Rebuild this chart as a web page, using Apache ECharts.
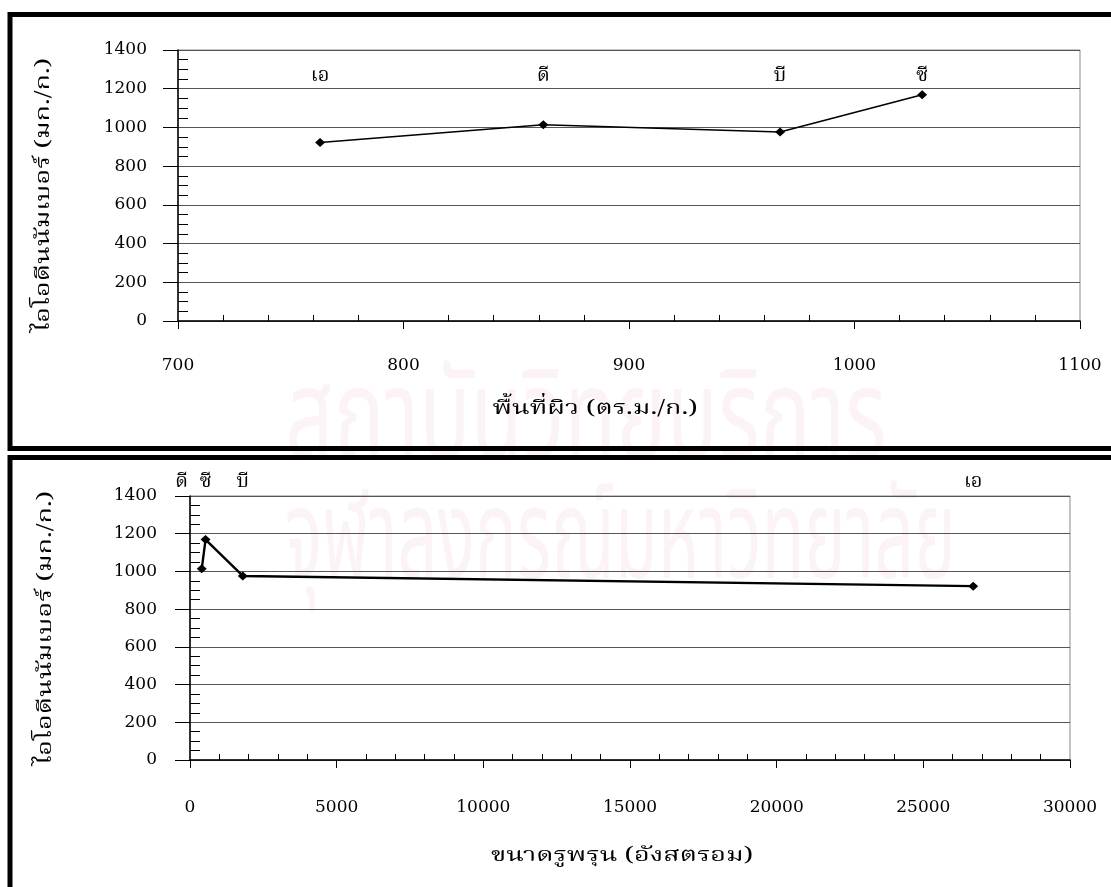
<!DOCTYPE html>
<html><head><meta charset="utf-8">
<script src="https://cdn.jsdelivr.net/npm/echarts@6/dist/echarts.min.js"></script>
<style>html,body{margin:0;padding:0;background:#fff}#c{width:1111px;height:887px}</style>
</head><body><div id="c"></div>
<script>
// ---- data ----
const sampleNames = ['เอ', 'ดี', 'บี', 'ซี'];
const iodineNumber = [922, 1014, 976, 1169];      // มก./ก.
const surfaceArea = [763, 862, 967, 1030];         // ตร.ม./ก.
const poreSize = [26700, 400, 1800, 530];          // อังสตรอม
const yTitle = 'ไอโอดีนนัมเบอร์ (มก./ก.)';
const xTitleTop = 'พื้นที่ผิว (ตร.ม./ก.)';
const xTitleBottom = 'ขนาดรูพรุน (อังสตรอม)';
const watermark1 = 'สถาบันวิทยบริการ';
const watermark2 = 'จุฬาลงกรณ์มหาวิทยาลัย';

// ---- config (not data) ----
const THAI = "'Noto Serif Thai','Norasi','Kinnari','Noto Sans Thai','Loma','Garuda','DejaVu Serif',serif";
const THAI_SANS = "'Noto Sans Thai','Loma','Garuda','DejaVu Sans',sans-serif";
const SERIF = "'DejaVu Serif','Liberation Serif',serif";
const LABEL_ROW_TOP = 1255, LABEL_ROW_BOTTOM = 1467;
const bottomLabelOffsets = {'ดี': [-20, 0]};
const plain = v => String(v);

function sortedPairs(xs) {
  return xs.map((x, i) => [x, iodineNumber[i]]).sort((a, b) => a[0] - b[0]);
}
function labelData(xs, row, offsets) {
  return xs.map((x, i) => {
    const d = {value: [x, row], name: sampleNames[i]};
    if (offsets && offsets[sampleNames[i]]) d.label = {offset: offsets[sampleNames[i]]};
    return d;
  });
}

function mainX(grid, min, max, interval, margin) {
  return {gridIndex: grid, type: 'value', position: 'bottom', min, max, interval,
    axisLine: {show: true, onZero: false, lineStyle: {color: '#000', width: 1.5}},
    axisTick: {show: true, length: 8, lineStyle: {color: '#000', width: 1}},
    minorTick: {show: false},
    axisLabel: {margin, color: '#000', fontFamily: SERIF, fontSize: 17, formatter: plain},
    splitLine: {show: false}};
}
function minorX(grid, min, max, interval) {
  return {gridIndex: grid, type: 'value', position: 'bottom', min, max, interval,
    axisLine: {show: false}, axisLabel: {show: false},
    axisTick: {show: false, inside: true},
    minorTick: {show: true, splitNumber: 5, length: 6, lineStyle: {color: '#000', width: 1}},
    splitLine: {show: false}, minorSplitLine: {show: false}};
}
function mainY(grid, margin) {
  return {gridIndex: grid, type: 'value', position: 'left', min: 0, max: 1400, interval: 200,
    axisLine: {show: true, onZero: false, lineStyle: {color: '#000', width: 1.5}},
    axisTick: {show: true, length: 15, lineStyle: {color: '#000', width: 1}},
    axisLabel: {margin, color: '#000', fontFamily: SERIF, fontSize: 17, formatter: plain},
    splitLine: {show: true, lineStyle: {color: '#555', width: 1}}};
}
function minorY(grid) {
  return {gridIndex: grid, type: 'value', position: 'left', min: 0, max: 1400, interval: 200,
    axisLine: {show: false}, axisLabel: {show: false},
    axisTick: {show: false, inside: true},
    minorTick: {show: true, splitNumber: 4, length: 10, lineStyle: {color: '#000', width: 1}},
    splitLine: {show: false}, minorSplitLine: {show: false}};
}

const lineSeries = (xi, yi, data, w) => ({
  type: 'line', xAxisIndex: xi, yAxisIndex: yi, data, z: 5,
  symbol: 'diamond', symbolSize: [10, 9], showSymbol: true,
  lineStyle: {color: '#000', width: w}, itemStyle: {color: '#000'}, animation: false
});
const labelSeries = (xi, yi, data) => ({
  type: 'scatter', xAxisIndex: xi, yAxisIndex: yi, data, clip: false, z: 6,
  symbolSize: 1, itemStyle: {opacity: 0}, silent: true, animation: false,
  label: {show: true, position: 'inside', formatter: p => p.name, color: '#000',
    fontFamily: THAI, fontSize: 20, opacity: 1}
});

const titleText = (text, x, y, rot) => ({
  type: 'text', z: 10, silent: true, x, y, rotation: rot || 0, scaleX: 1.35,
  style: {text, font: '20px ' + THAI, fill: '#000', align: 'center', verticalAlign: 'middle'}
});

const chart = echarts.init(document.getElementById('c'), null, {renderer: 'canvas'});
chart.setOption({
  backgroundColor: '#fff',
  animation: false,
  grid: [
    {left: 178, right: 31, top: 50, height: 271, show: true, borderColor: '#888', borderWidth: 1, backgroundColor: 'transparent'},
    {left: 190, right: 41, top: 496, height: 264, show: true, borderColor: '#888', borderWidth: 1, backgroundColor: 'transparent'}
  ],
  xAxis: [mainX(0, 700, 1100, 100, 36), minorX(0, 700, 1100, 100),
          mainX(1, 0, 30000, 5000, 39), minorX(1, 0, 30000, 5000)],
  yAxis: [mainY(0, 31), minorY(0), mainY(1, 33), minorY(1)],
  series: [
    lineSeries(0, 0, sortedPairs(surfaceArea), 1.6),
    labelSeries(0, 0, labelData(surfaceArea, LABEL_ROW_TOP)),
    lineSeries(2, 2, sortedPairs(poreSize), 2.4),
    labelSeries(2, 2, labelData(poreSize, LABEL_ROW_BOTTOM, bottomLabelOffsets))
  ],
  graphic: [
    {type: 'text', z: -10, silent: true, x: 285, y: 370, scaleX: 0.68,
      style: {text: watermark1, font: '125px ' + THAI_SANS, fill: 'rgba(200,40,90,0.055)'}},
    {type: 'text', z: -10, silent: true, x: 285, y: 490, scaleX: 0.56,
      style: {text: watermark2, font: '125px ' + THAI_SANS, fill: 'rgba(200,40,90,0.055)'}},
    {type: 'rect', z: 10, silent: true, shape: {x: 10, y: 14.5, width: 1120, height: 434},
      style: {fill: 'none', stroke: '#000', lineWidth: 5}},
    {type: 'rect', z: 10, silent: true, shape: {x: 10, y: 457.5, width: 1120, height: 450},
      style: {fill: 'none', stroke: '#000', lineWidth: 5}},
    titleText(xTitleTop, 595, 411),
    titleText(xTitleBottom, 622, 858),
    titleText(yTitle, 46, 195, Math.PI / 2),
    titleText(yTitle, 48, 628, Math.PI / 2)
  ]
});
</script></body></html>
